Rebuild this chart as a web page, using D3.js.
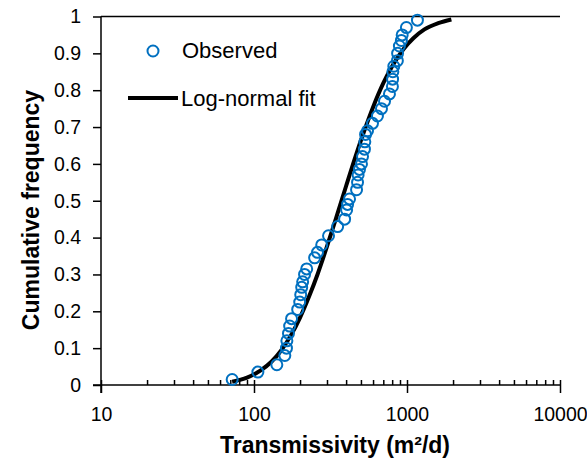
<!DOCTYPE html>
<html lang="en">
<head>
<meta charset="utf-8">
<title>Cumulative frequency of transmissivity</title>
<style>
  body { margin: 0; padding: 0; background: #fff; }
  svg { display: block; }
  text { font-family: "Liberation Sans", Arial, sans-serif; fill: #000; }
</style>
<script src="https://cdn.jsdelivr.net/npm/d3@7"></script>
</head>
<body>
<svg id="chart" width="587" height="464"></svg>
<script>
// observed transmissivity (m2/d) and cumulative frequency
const obsT = [72, 106, 141, 159, 163, 164, 168, 171, 176, 193, 199, 202, 205, 208, 214, 221,
  249, 260, 277, 307, 352, 391, 403, 409, 421, 468, 475, 479, 489, 504, 512, 527, 530, 536,
  552, 595, 641, 681, 713, 768, 803, 805, 808, 820, 865, 868, 892, 919, 930, 991, 1170];
const obsF = [0.015, 0.035, 0.055, 0.08, 0.10, 0.12, 0.14, 0.16, 0.18, 0.205, 0.225, 0.245, 0.265,
  0.28, 0.30, 0.315, 0.345, 0.36, 0.38, 0.405, 0.43, 0.45, 0.475, 0.49, 0.505, 0.53, 0.55, 0.57,
  0.585, 0.60, 0.62, 0.64, 0.66, 0.68, 0.69, 0.71, 0.73, 0.75, 0.77, 0.79, 0.81, 0.83, 0.85,
  0.865, 0.88, 0.90, 0.92, 0.935, 0.95, 0.97, 0.99];

// log-normal fit curve
const fitT = [72, 90, 110, 130, 150, 175, 200, 230, 260, 300, 350, 400, 460, 530, 600, 700,
  800, 950, 1100, 1300, 1600, 1950];
const fitF = [0.009, 0.020, 0.039, 0.063, 0.093, 0.136, 0.183, 0.242, 0.300, 0.376, 0.463,
  0.540, 0.619, 0.694, 0.754, 0.819, 0.865, 0.912, 0.941, 0.965, 0.982, 0.992];

const xMajor = [10, 100, 1000, 10000];
const yTicks = [0, 0.1, 0.2, 0.3, 0.4, 0.5, 0.6, 0.7, 0.8, 0.9, 1];

const plotL = 101, plotR = 560, plotT = 16.5, plotB = 385;

const svg = d3.select('#chart');
const x = d3.scaleLog().domain([10, 10000]).range([plotL, plotR]);
const y = d3.scaleLinear().domain([0, 1]).range([plotB, plotT]);

// top border
svg.append('line')
  .attr('x1', plotL).attr('x2', plotR)
  .attr('y1', plotT).attr('y2', plotT)
  .attr('stroke', '#000').attr('stroke-width', 1.5);

// y axis
const yAxis = svg.append('g')
  .attr('transform', `translate(${plotL},0)`)
  .call(d3.axisLeft(y).tickValues(yTicks).tickSize(8).tickPadding(12)
    .tickFormat(d => d3.format('')(+d.toFixed(1))));

// x axis: minor ticks (inside) then majors (crossing)
const minor = x.ticks().filter(d => xMajor.indexOf(d) < 0);
svg.append('g')
  .attr('transform', `translate(0,${plotB})`)
  .call(d3.axisBottom(x).tickValues(minor).tickSize(-5).tickFormat(''))
  .call(g => g.select('.domain').remove());

const xAxis = svg.append('g')
  .attr('transform', `translate(0,${plotB})`)
  .call(d3.axisBottom(x).tickValues(xMajor).tickSize(8).tickPadding(14)
    .tickFormat(d3.format('')));
xAxis.selectAll('.tick line').attr('y1', -5);

[yAxis, xAxis].forEach(g => {
  g.select('.domain').attr('stroke-width', 1.5);
  g.selectAll('.tick text').attr('font-size', 19.5)
    .attr('font-family', '"Liberation Sans", Arial, sans-serif');
});
svg.selectAll('.tick line').attr('stroke-width', 1.5);
xAxis.select('.domain').attr('d', `M${plotL - 8},0H${plotR}`);
yAxis.select('.domain').attr('d', `M0,${plotT}V${plotB + 8}`);

// fit curve
const line = d3.line()
  .x((d, i) => x(fitT[i]))
  .y(d => y(d))
  .curve(d3.curveMonotoneX);
svg.append('path')
  .datum(fitF)
  .attr('d', line)
  .attr('fill', 'none')
  .attr('stroke', '#000')
  .attr('stroke-width', 4);

// observed points
svg.append('g')
  .selectAll('circle')
  .data(obsF)
  .join('circle')
  .attr('cx', (d, i) => x(obsT[i]))
  .attr('cy', d => y(d))
  .attr('r', 5.5)
  .attr('fill', 'none')
  .attr('stroke', '#0070C0')
  .attr('stroke-width', 2);

// legend
const legend = svg.append('g');
legend.append('circle')
  .attr('cx', 153).attr('cy', 51).attr('r', 5.5)
  .attr('fill', 'none').attr('stroke', '#0070C0').attr('stroke-width', 2);
legend.append('text')
  .attr('x', 182).attr('y', 58)
  .attr('font-size', 22)
  .text('Observed');
legend.append('line')
  .attr('x1', 128).attr('x2', 178)
  .attr('y1', 98).attr('y2', 98)
  .attr('stroke', '#000').attr('stroke-width', 4);
legend.append('text')
  .attr('x', 181).attr('y', 106)
  .attr('font-size', 22)
  .text('Log-normal fit');

// axis titles
svg.append('text')
  .attr('x', 335).attr('y', 453)
  .attr('text-anchor', 'middle')
  .attr('font-size', 23).attr('font-weight', 'bold')
  .text('Transmissivity (m²/d)');

svg.append('text')
  .attr('transform', 'translate(39,210) rotate(-90)')
  .attr('text-anchor', 'middle')
  .attr('font-size', 23).attr('font-weight', 'bold')
  .text('Cumulative frequency');
</script>
</body>
</html>
